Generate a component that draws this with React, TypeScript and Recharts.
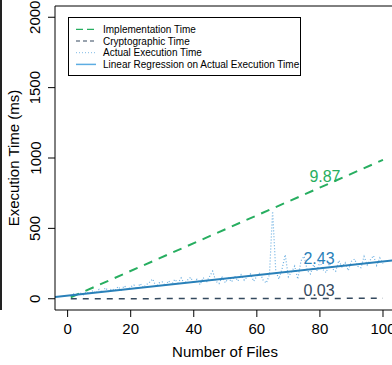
import React from "react"
import { LineChart, Line, XAxis, YAxis, Legend, ReferenceLine, ReferenceDot } from "recharts"

const files = Array.from({ length: 100 }, (_, i) => i + 1)

// actual execution time (ms)
const actualTimes = [
  18, 35, 22, 42, 28, 50, 36, 58, 40, 66,
  46, 78, 52, 72, 58, 86, 62, 92, 66, 84,
  98, 70, 108, 80, 100, 118, 140, 86, 112, 120,
  92, 128, 100, 138, 112, 148, 106, 132, 152, 110,
  138, 100, 150, 116, 158, 196, 124, 108, 152, 114,
  146, 120, 160, 126, 170, 132, 156, 176, 124, 160,
  186, 132, 112, 170, 620, 196, 140, 212, 312, 156,
  190, 232, 140, 270, 302, 200, 176, 242, 196, 262,
  206, 186, 252, 212, 196, 272, 226, 256, 200, 266,
  282, 230, 220, 300, 240, 276, 306, 236, 290, 250,
]

// straight lines: endpoints
const implX = [1, 100]
const implY = [10, 987]
const cryptoX = [1, 100]
const cryptoY = [0, 3]
const regX = [-4, 104]
const regY = [13, 275]

const xTicks = [0, 20, 40, 60, 80, 100]
const yTicks = [0, 500, 1000, 1500, 2000]

const slopeLabels = [
  { text: "9.87", x: 81.6, y: 872, color: "#27ae60" },
  { text: "2.43", x: 79.7, y: 286, color: "#2980b9" },
  { text: "0.03", x: 79.7, y: 62, color: "#34495e" },
]

const legendItems = [
  { name: "Implementation Time", color: "#27ae60", dash: "7 4", width: 1.2 },
  { name: "Cryptographic Time", color: "#34495e", dash: "4 3", width: 1.2 },
  { name: "Actual Execution Time", color: "#7fbbe6", dash: "1 2", width: 1 },
  { name: "Linear Regression on Actual Execution Time", color: "#5dade2", dash: undefined, width: 1.5 },
]

const actualData = files.map((f, i) => ({ x: f, y: actualTimes[i] }))
const implData = implX.map((x, i) => ({ x, y: implY[i] }))
const cryptoData = cryptoX.map((x, i) => ({ x, y: cryptoY[i] }))
const regData = regX.map((x, i) => ({ x, y: regY[i] }))

const font = "'Liberation Sans', Arial, Helvetica, sans-serif"

const XTick = (props: any) => {
  const { x, y, payload } = props
  return (
    <text x={x} y={y + 9} textAnchor="middle" dominantBaseline="central" fontSize={15} fill="#000" fontFamily={font}>
      {payload.value}
    </text>
  )
}

const YTick = (props: any) => {
  const { x, y, payload } = props
  const cx = x - 11
  return (
    <text x={cx} y={y} transform={`rotate(-90 ${cx} ${y})`} textAnchor="middle" dominantBaseline="central" fontSize={15} fill="#000" fontFamily={font}>
      {payload.value}
    </text>
  )
}

const renderLegend = () => (
  <svg width={233} height={59} style={{ display: "block" }}>
    <rect x={0.5} y={0.5} width={232} height={58} fill="#fff" stroke="#000" strokeWidth={1} />
    {legendItems.map((item, i) => {
      const cy = 12.3 + i * 11.7
      return (
        <g key={item.name}>
          <line x1={8} x2={28} y1={cy} y2={cy} stroke={item.color} strokeWidth={item.width} strokeDasharray={item.dash} />
          <text x={35} y={cy} dominantBaseline="central" fontSize={10} fill="#000" fontFamily={font}>
            {item.name}
          </text>
        </g>
      )
    })}
  </svg>
)

export default function App() {
  return (
    <div style={{ position: "absolute", left: 0, top: 0, width: 392, height: 365, overflow: "hidden", background: "#fff" }}>
      <div style={{ position: "absolute", left: 0, top: 0, width: 1.5, height: 310, background: "#222" }} />
      <LineChart width={400} height={365} margin={{ top: 6, right: 4.4, left: 0, bottom: 0 }}>
        <XAxis
          type="number"
          dataKey="x"
          domain={[-4, 104]}
          ticks={xTicks}
          allowDataOverflow
          height={55}
          tickSize={7}
          tick={<XTick />}
          axisLine={{ stroke: "#000" }}
          tickLine={{ stroke: "#000" }}
          label={() => (
            <text x={225} y={351} textAnchor="middle" dominantBaseline="central" fontSize={15} fill="#000" fontFamily={font}>
              Number of Files
            </text>
          )}
        />
        <YAxis
          type="number"
          dataKey="y"
          domain={[-80, 2080]}
          ticks={yTicks}
          allowDataOverflow
          width={55}
          tickSize={7}
          tick={<YTick />}
          axisLine={{ stroke: "#000" }}
          tickLine={{ stroke: "#000" }}
          label={() => (
            <text x={13} y={158} transform="rotate(-90 13 158)" textAnchor="middle" dominantBaseline="central" fontSize={15} fill="#000" fontFamily={font}>
              Execution Time (ms)
            </text>
          )}
        />
        <ReferenceLine y={2080} stroke="#000" strokeWidth={1} ifOverflow="visible" />
        <Line data={actualData} dataKey="y" type="linear" stroke="#6aaee0" strokeWidth={1.2} strokeDasharray="1 2" dot={false} isAnimationActive={false} />
        <Line data={cryptoData} dataKey="y" type="linear" stroke="#34495e" strokeWidth={1.5} strokeDasharray="6 6" dot={false} isAnimationActive={false} />
        <Line data={implData} dataKey="y" type="linear" stroke="#27ae60" strokeWidth={2} strokeDasharray="9 7" dot={false} isAnimationActive={false} />
        <Line data={regData} dataKey="y" type="linear" stroke="#2980b9" strokeWidth={2} dot={false} isAnimationActive={false} />
        {slopeLabels.map((l) => (
          <ReferenceDot
            key={l.text}
            x={l.x}
            y={l.y}
            r={0}
            fill="none"
            stroke="none"
            label={{ value: l.text, position: "center", fill: l.color, fontSize: 16, fontFamily: font }}
          />
        ))}
        <Legend
          layout="vertical"
          align="center"
          verticalAlign="middle"
          wrapperStyle={{ left: 68, top: 17, width: 233, height: 59 }}
          content={renderLegend}
        />
      </LineChart>
    </div>
  )
}
